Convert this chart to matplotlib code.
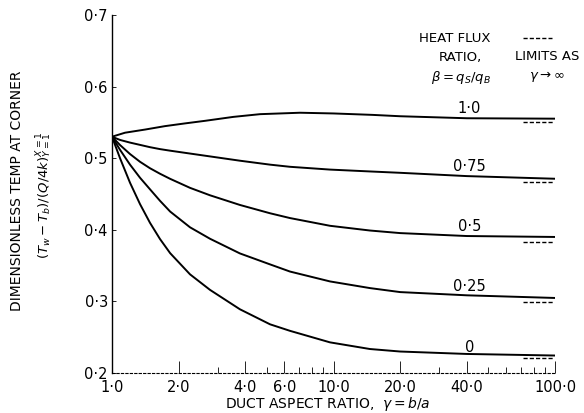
import numpy as np
import matplotlib.pyplot as plt

# curves: beta = q_S/q_B
x_b10 = [1.0, 1.145, 1.41, 1.735, 2.136, 2.63, 3.53, 4.66, 7.06, 10.0, 15.0, 20.0, 40.0, 100.0]
y_b10 = [0.530, 0.5356, 0.540, 0.5448, 0.5486, 0.5522, 0.5577, 0.5615, 0.5635, 0.5625, 0.5605, 0.5586, 0.5558, 0.5552]

x_pts = [1.0, 1.087, 1.206, 1.338, 1.484, 1.647, 1.83, 2.25, 2.77, 3.78, 5.17, 6.36, 9.64, 14.6, 20.0, 40.0, 100.0]
y_b075 = [0.530, 0.5255, 0.5218, 0.5186, 0.5154, 0.5127, 0.5105, 0.5065, 0.5025, 0.4965, 0.491, 0.488, 0.4841, 0.4815, 0.4796, 0.475, 0.4713]
y_b05 = [0.530, 0.5184, 0.5058, 0.4950, 0.4860, 0.4783, 0.4712, 0.4586, 0.4482, 0.4347, 0.4231, 0.4164, 0.4056, 0.399, 0.3954, 0.3913, 0.390]
y_b025 = [0.530, 0.5117, 0.491, 0.4727, 0.4566, 0.4405, 0.4255, 0.4035, 0.3875, 0.367, 0.3517, 0.3417, 0.3279, 0.3186, 0.313, 0.3085, 0.3048]
y_b0 = [0.530, 0.500, 0.4657, 0.4359, 0.4098, 0.3871, 0.3674, 0.3378, 0.3161, 0.289, 0.268, 0.2589, 0.2428, 0.2335, 0.230, 0.2266, 0.2244]

curve_labels = ["1·0", "0·75", "0·5", "0·25", "0"]
label_y = [0.569, 0.489, 0.404, 0.321, 0.2355]
limits = [0.551, 0.467, 0.383, 0.299, 0.221]   # values as gamma -> inf

xticks = [1, 2, 4, 6, 10, 20, 40, 100]
xticklabels = ["1·0", "2·0", "4·0", "6·0", "10·0", "20·0", "40·0", "100·0"]
yticks = [0.2, 0.3, 0.4, 0.5, 0.6, 0.7]
yticklabels = ["0·2", "0·3", "0·4", "0·5", "0·6", "0·7"]

W, H = 584, 413
fig = plt.figure(figsize=(W/100, H/100), dpi=100)
ax = fig.add_axes([112/W, 1-373/H, (555-112)/W, (373-15)/H])

ax.plot(x_b10, y_b10, color="black", lw=1.4)
for ys in [y_b075, y_b05, y_b025, y_b0]:
    ax.plot(x_pts, ys, color="black", lw=1.4)

for lab, ly, lim in zip(curve_labels, label_y, limits):
    ax.text(41, ly, lab, ha="center", va="center", fontsize=10.5)
    ax.plot([72, 98], [lim, lim], color="black", lw=1.0, ls=(0, (3, 1.5)))

ax.set_xscale("log")
ax.set_xlim(1, 100)
ax.set_ylim(0.2, 0.7)
ax.set_xticks(xticks)
ax.set_xticklabels(xticklabels, fontsize=10.5)
ax.set_yticks(yticks)
ax.set_yticklabels(yticklabels, fontsize=10.5)
ax.xaxis.set_minor_formatter(plt.NullFormatter())
ax.tick_params(axis="x", which="major", direction="in", length=9, width=0.6, pad=5)
ax.tick_params(axis="x", which="minor", direction="in", length=4, width=0.6)
ax.tick_params(axis="y", direction="in", length=3, width=0.6, pad=3)
for s in ["top", "right"]:
    ax.spines[s].set_visible(False)
ax.spines["left"].set_linewidth(1.0)
ax.spines["bottom"].set_linewidth(0.8)
ax.spines["bottom"].set_linestyle((0, (2, 2)))

fs = 9.5
fig.text(17/W, 1-191/H, "DIMENSIONLESS TEMP AT CORNER", rotation=90,
         ha="center", va="center", fontsize=10)
fig.text(44/W, 1-195/H, r"$(T_w-T_b)/(Q/4k)_{\substack{X=1\\Y=1}}$", rotation=90,
         ha="center", va="center", fontsize=fs)
fig.text(328/W, 1-404/H, r"DUCT ASPECT RATIO,  $\gamma = b/a$", ha="center", va="center", fontsize=10)

fig.text(455/W, 1-38/H, "HEAT FLUX", ha="center", va="center", fontsize=fs)
fig.text(460/W, 1-57/H, "RATIO,", ha="center", va="center", fontsize=fs)
fig.text(461/W, 1-77/H, r"$\beta = q_S/q_B$", ha="center", va="center", fontsize=fs)
fig.text(547/W, 1-57/H, "LIMITS AS", ha="center", va="center", fontsize=fs)
fig.text(547/W, 1-77/H, r"$\gamma \rightarrow \infty$", ha="center", va="center", fontsize=fs)
fig.add_artist(plt.Line2D([523/W, 552/W], [1-38/H, 1-38/H], color="black", lw=1.0, ls=(0, (3, 1.5))))

fig.savefig("out.png", dpi=100)
